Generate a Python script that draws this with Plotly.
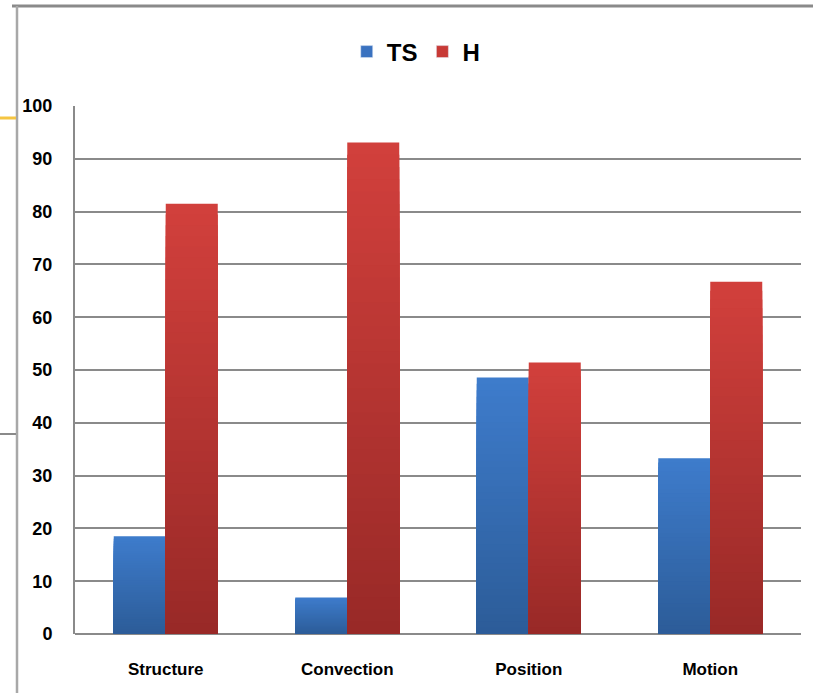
import plotly.graph_objects as go

# Share of responses per topic
categories = ["Structure", "Convection", "Position", "Motion"]
ts_values = [18.5, 6.9, 48.6, 33.3]
h_values = [81.5, 93.1, 51.4, 66.7]
y_ticks = [0, 10, 20, 30, 40, 50, 60, 70, 80, 90, 100]

FONT = "Liberation Sans, Arial, sans-serif"
N_STEPS = 40  # nested layers used to shade each bar from dark (bottom) to light (top)


def mix(c1, c2, t):
    return "rgb(%d,%d,%d)" % tuple(round(a + (b - a) * t) for a, b in zip(c1, c2))


def shaded_series(name, values, bottom_rgb, top_rgb, legend_color):
    traces = []
    # tallest (lightest) layer first, shorter darker layers painted over it
    for k in range(N_STEPS):
        frac = (N_STEPS - k) / N_STEPS
        t = (N_STEPS - k - 0.5) / N_STEPS
        traces.append(go.Bar(
            x=categories,
            y=[v * frac for v in values],
            offsetgroup=name,
            legendgroup=name,
            showlegend=False,
            marker=dict(color=mix(bottom_rgb, top_rgb, t), line=dict(width=0)),
            hoverinfo="skip",
        ))
    # transparent full-height trace carrying the hover text
    traces.append(go.Bar(
        x=categories, y=values, offsetgroup=name, legendgroup=name, name=name,
        marker=dict(color=legend_color, line=dict(width=0)), opacity=0,
        showlegend=False,
    ))
    # legend entry
    traces.append(go.Bar(
        x=[None], y=[None], name=name, legendgroup=name,
        marker=dict(color=legend_color), showlegend=True,
    ))
    return traces


fig = go.Figure()
for tr in shaded_series("TS", ts_values, (44, 92, 152), (62, 124, 204), "rgb(58,114,192)"):
    fig.add_trace(tr)
for tr in shaded_series("H", h_values, (152, 41, 39), (210, 64, 60), "rgb(200,58,54)"):
    fig.add_trace(tr)

W, H = 813, 693
L, R, T, B = 75, 801, 106, 634


def px(xp):
    return (xp - L) / (R - L)


def py(yp):
    return (B - yp) / (B - T)


grey = "#8a8a8a"
shapes = [
    # outer frame of the chart panel
    dict(type="line", xref="paper", yref="paper", x0=px(12), x1=px(813),
         y0=py(6), y1=py(6), line=dict(color=grey, width=3)),
    dict(type="line", xref="paper", yref="paper", x0=px(17), x1=px(17),
         y0=py(6), y1=py(693), line=dict(color="#a8a8a8", width=2.5)),
    # small accent rules left of the panel
    dict(type="line", xref="paper", yref="paper", x0=px(0), x1=px(16),
         y0=py(118), y1=py(118), line=dict(color="#f5c542", width=3)),
    dict(type="line", xref="paper", yref="paper", x0=px(0), x1=px(16),
         y0=py(434), y1=py(434), line=dict(color="#8a8a8a", width=2)),
]

fig.update_layout(
    width=W, height=H,
    margin=dict(l=L, r=W - R, t=T, b=H - B),
    paper_bgcolor="white", plot_bgcolor="white",
    barmode="group", bargap=0.427, bargroupgap=0,
    showlegend=True,
    legend=dict(orientation="h", x=0.47, xanchor="center", y=py(52), yanchor="middle",
                font=dict(family=FONT, size=24, color="black", weight="bold"),
                itemwidth=30, traceorder="normal", bgcolor="rgba(0,0,0,0)"),
    font=dict(family=FONT, color="black"),
    shapes=shapes,
    xaxis=dict(showgrid=False, showline=False, ticks="",
               tickfont=dict(family=FONT, size=17, color="black", weight="bold"),
               ticklabelstandoff=23),
    yaxis=dict(range=[0, 100], tickvals=y_ticks, showgrid=True, gridcolor=grey, gridwidth=2,
               showline=True, linecolor=grey, linewidth=2, zeroline=True,
               zerolinecolor=grey, zerolinewidth=2,
               tickfont=dict(family=FONT, size=18, color="black", weight="bold"),
               ticks="", ticklabelstandoff=17),
)

fig.write_html("out.html")
